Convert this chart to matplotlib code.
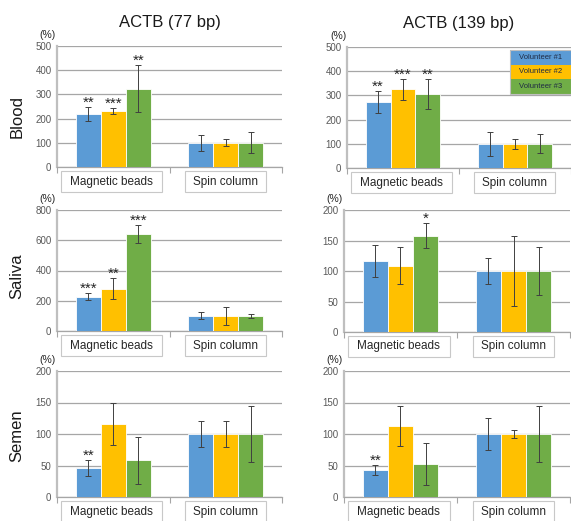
"""ACTB recovery, magnetic beads vs spin column, per body fluid (3 volunteers)."""
import matplotlib
matplotlib.use("Agg")
import matplotlib.pyplot as plt
from matplotlib.patches import Rectangle
import numpy as np

plt.rcParams["font.family"] = ["Liberation Sans", "DejaVu Sans"]

methods = ["Magnetic beads", "Spin column"]
volunteers = ["Volunteer #1", "Volunteer #2", "Volunteer #3"]
colors = ["#5B9BD5", "#FFC000", "#70AD47"]
fluids = ["Blood", "Saliva", "Semen"]
amplicons = ["ACTB (77 bp)", "ACTB (139 bp)"]

# values per panel: rows = volunteers, cols = methods
blood_77 = [[219, 100], [231, 100], [323, 100]]
blood_77_err = [[29, 33], [12, 14], [97, 43]]
blood_77_stars = ["**", "***", "**"]
blood_139 = [[273, 100], [326, 100], [306, 100]]
blood_139_err = [[44, 49], [43, 20], [62, 40]]
blood_139_stars = ["**", "***", "**"]
saliva_77 = [[226, 100], [279, 100], [642, 100]]
saliva_77_err = [[24, 23], [69, 58], [57, 14]]
saliva_77_stars = ["***", "**", "***"]
saliva_139 = [[116, 100], [109, 100], [158, 100]]
saliva_139_err = [[26, 22], [30, 57], [20, 39]]
saliva_139_stars = ["", "", "*"]
semen_77 = [[46, 100], [116, 100], [58, 100]]
semen_77_err = [[12, 20], [34, 21], [37, 45]]
semen_77_stars = ["**", "", ""]
semen_139 = [[43, 100], [113, 100], [52, 100]]
semen_139_err = [[8, 25], [32, 7], [33, 45]]
semen_139_stars = ["**", "", ""]

# y axis max / step per panel
axis_max = [500, 500, 800, 200, 200, 200]
axis_step = [100, 100, 200, 50, 50, 50]

panels = [
    ("Blood", 0, blood_77, blood_77_err, blood_77_stars),
    ("Blood", 1, blood_139, blood_139_err, blood_139_stars),
    ("Saliva", 0, saliva_77, saliva_77_err, saliva_77_stars),
    ("Saliva", 1, saliva_139, saliva_139_err, saliva_139_stars),
    ("Semen", 0, semen_77, semen_77_err, semen_77_stars),
    ("Semen", 1, semen_139, semen_139_err, semen_139_stars),
]

W, H = 571, 521
# axes boxes in pixels: left, top, right, bottom
boxes = [
    (57, 46, 282, 167),
    (347, 47, 571, 168),
    (57, 210, 282, 331),
    (344, 210, 570, 332),
    (57, 371, 282, 497),
    (344, 371, 570, 497),
]

fig = plt.figure(figsize=(W / 100, H / 100), dpi=100)
bar_w = 0.222


def draw_panel(ax, vals, errs, stars, ymax, ystep):
    vals = np.array(vals, dtype=float)
    errs = np.array(errs, dtype=float)
    x = np.arange(len(methods)) + 0.5
    for i in range(len(volunteers)):
        xi = x + (i - 1) * bar_w
        ax.bar(xi, vals[i], bar_w, color=colors[i], edgecolor="white",
               linewidth=0.6, zorder=3)
        ax.errorbar(xi, vals[i], yerr=errs[i], fmt="none", ecolor="#404040",
                    elinewidth=0.7, capsize=2, capthick=0.7, zorder=4)
        if stars[i]:
            ax.annotate(stars[i], (xi[0], vals[i][0] + errs[i][0]),
                        xytext=(0, -2), textcoords="offset points",
                        ha="center", va="bottom", fontsize=11, color="#262626")
    ax.set_xlim(0, len(methods))
    ax.set_ylim(0, ymax)
    ax.set_yticks(np.arange(0, ymax + 1, ystep))
    ax.tick_params(axis="y", length=0, labelsize=7, labelcolor="#595959", pad=4)
    ax.set_xticks([0, 1, 2])
    ax.set_xticklabels([])
    ax.tick_params(axis="x", length=4, color="#A6A6A6", direction="out")
    ax.yaxis.grid(True, color="#A6A6A6", linewidth=0.9, zorder=0)
    ax.set_axisbelow(True)
    for s in ("top", "right"):
        ax.spines[s].set_visible(False)
    ax.spines["left"].set_color("#BFBFBF")
    ax.spines["left"].set_linewidth(1.6)
    ax.spines["bottom"].set_color("#A6A6A6")
    ax.spines["bottom"].set_linewidth(0.9)
    ax.text(-0.04, 1.09, "(%)", transform=ax.transAxes, ha="center",
            va="center", fontsize=7.5, color="#262626")

    # category label boxes under the axis
    h = ax.get_position().height * H
    y0, y1 = -4 / h, -25 / h
    for (a, b), name in zip([(0.018, 0.467), (0.569, 0.929)], methods):
        ax.add_patch(Rectangle((a, y1), b - a, y0 - y1, transform=ax.transAxes,
                               facecolor="white", edgecolor="#C8C8C8",
                               linewidth=0.8, clip_on=False))
        ax.text((a + b) / 2, (y0 + y1) / 2, name, transform=ax.transAxes,
                ha="center", va="center", fontsize=8.5, color="#262626")


for k, (fluid, col, vals, errs, stars) in enumerate(panels):
    l, t, r, b = boxes[k]
    ax = fig.add_axes([l / W, 1 - b / H, (r - l) / W, (b - t) / H])
    draw_panel(ax, vals, errs, stars, axis_max[k], axis_step[k])

    if fluid == "Blood":
        ax.set_title(amplicons[col], fontsize=12, pad=14, color="#1a1a1a")
    if col == 1 and fluid == "Blood":
        # legend as coloured rows, top right
        rh = 0.121
        for i, name in enumerate(volunteers):
            yb = 0.975 - (i + 1) * rh
            ax.add_patch(Rectangle((0.728, yb), 0.272, rh, transform=ax.transAxes,
                                   facecolor=colors[i], edgecolor="none",
                                   clip_on=False, zorder=5))
            ax.text(0.864, yb + rh / 2, name, transform=ax.transAxes,
                    ha="center", va="center", fontsize=5.5, color="#1F2A44",
                    zorder=6)
        ax.add_patch(Rectangle((0.728, 0.975 - 3 * rh), 0.272, 3 * rh,
                               transform=ax.transAxes, facecolor="none",
                               edgecolor="#BFBFBF", linewidth=0.8,
                               clip_on=False, zorder=6))

row_y = {"Blood": 117, "Saliva": 276, "Semen": 436}
for fluid in fluids:
    fig.text(17 / W, 1 - row_y[fluid] / H, fluid, rotation=90, ha="center",
             va="center", fontsize=12, color="#1a1a1a")

fig.savefig("out.png", dpi=100)
